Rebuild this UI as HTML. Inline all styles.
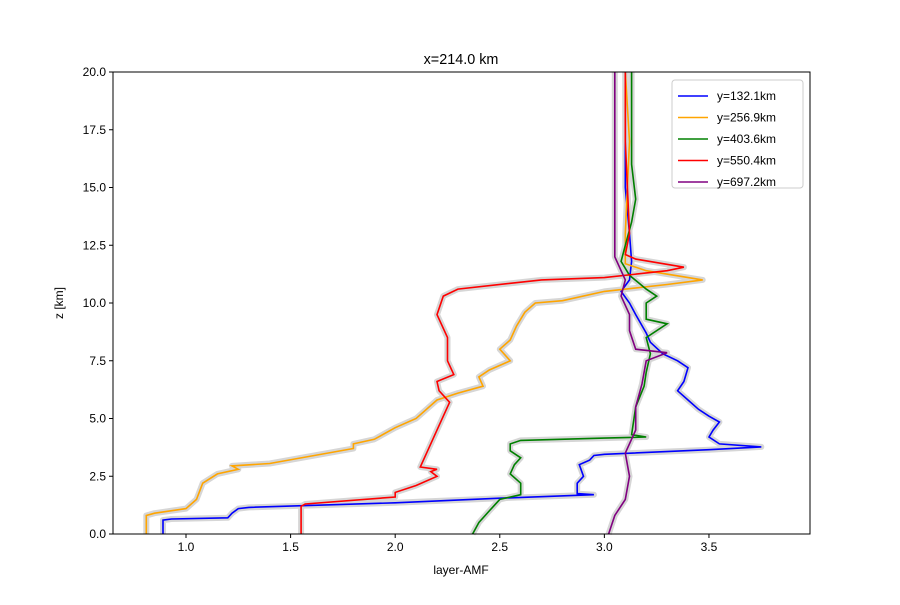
<!DOCTYPE html>
<html><head><meta charset="utf-8"><style>body{margin:0;background:#fff}svg{font-family:"Liberation Sans","DejaVu Sans",sans-serif}</style></head>
<body>
<svg id="c" width="900" height="600"></svg>
<script>
const seriesNames=["y=132.1km","y=256.9km","y=403.6km","y=550.4km","y=697.2km"];
const seriesColors=["blue","orange","green","red","purple"];
const blueX=[0.89,0.89,0.93,1.2,1.22,1.25,1.3,2.0,2.5,2.95,2.87,2.87,2.9,2.88,2.93,2.95,3.0,3.5,3.75,3.55,3.5,3.52,3.55,3.5,3.45,3.4,3.35,3.38,3.4,3.35,3.28,3.22,3.2,3.15,3.12,3.08,3.12,3.13,3.12,3.1,3.1,3.1];
const blueZ=[0,0.6,0.65,0.7,0.9,1.1,1.15,1.35,1.55,1.7,1.75,2.2,2.5,3.0,3.2,3.4,3.45,3.65,3.77,3.9,4.2,4.5,4.85,5.1,5.4,5.8,6.2,6.6,7.2,7.5,7.8,8.3,8.7,9.5,10.0,10.5,11.0,11.8,13,15,17,20];
const orangeX=[0.81,0.81,0.85,1.0,1.05,1.08,1.15,1.25,1.22,1.4,1.8,1.8,1.9,2.0,2.1,2.2,2.3,2.42,2.4,2.45,2.55,2.5,2.55,2.58,2.62,2.67,2.8,3.0,3.3,3.47,3.2,3.1,3.1,3.12,3.1];
const orangeZ=[0,0.8,0.9,1.1,1.5,2.2,2.6,2.8,2.95,3.05,3.7,3.9,4.1,4.6,5.0,5.8,6.1,6.4,6.8,7.1,7.5,8.0,8.4,9.0,9.6,10.0,10.1,10.5,10.8,11.0,11.4,11.7,13,17,20];
const greenX=[2.37,2.4,2.45,2.5,2.6,2.6,2.55,2.57,2.6,2.55,2.55,2.6,3.0,3.2,3.13,3.15,3.19,3.2,3.22,3.2,3.3,3.2,3.2,3.25,3.2,3.12,3.08,3.1,3.13,3.15,3.13,3.13];
const greenZ=[0,0.5,1.0,1.5,1.7,2.2,2.6,3.0,3.3,3.6,3.9,4.05,4.15,4.2,4.3,5.5,6.4,7.0,7.8,8.5,9.1,9.3,10.0,10.3,10.6,11.2,11.8,12.5,13.5,14.5,16,20];
const redX=[1.55,1.55,1.57,2.0,2.0,2.1,2.2,2.17,2.2,2.12,2.15,2.2,2.26,2.21,2.2,2.28,2.25,2.25,2.2,2.23,2.3,2.7,3.0,3.3,3.38,3.15,3.1,3.12,3.1,3.1];
const redZ=[0,1.2,1.3,1.6,1.8,2.1,2.5,2.7,2.8,2.9,3.5,4.5,5.7,6.2,6.6,6.9,7.5,8.5,9.5,10.3,10.6,11.0,11.1,11.4,11.55,11.9,12.1,13,17,20];
const purpleX=[3.02,3.05,3.1,3.12,3.1,3.15,3.15,3.18,3.2,3.3,3.15,3.12,3.12,3.08,3.1,3.05,3.05,3.05,3.05];
const purpleZ=[0,0.8,1.5,2.5,3.5,4.5,5.5,6.5,7.5,7.85,8.0,8.8,9.5,10.3,11.0,12,15,17,20];
const xTicks=[1.0,1.5,2.0,2.5,3.0,3.5];
const xTickLabels=["1.0","1.5","2.0","2.5","3.0","3.5"];
const yTicks=[0,2.5,5,7.5,10,12.5,15,17.5,20];
const yTickLabels=["0.0","2.5","5.0","7.5","10.0","12.5","15.0","17.5","20.0"];
const X0=113,X1=810,Y0=534,Y1=72,xmin=0.651,xmax=3.983,zmin=0,zmax=20;
const sx=v=>X0+(v-xmin)/(xmax-xmin)*(X1-X0);
const sy=v=>Y0-(v-zmin)/(zmax-zmin)*(Y0-Y1);
const svg=document.getElementById('c');const NS='http://www.w3.org/2000/svg';
function mk(t,a,p){const e=document.createElementNS(NS,t);for(const k in a)e.setAttribute(k,a[k]);(p||svg).appendChild(e);return e;}
const allX=[blueX,orangeX,greenX,redX,purpleX],allZ=[blueZ,orangeZ,greenZ,redZ,purpleZ];
const pts=i=>allX[i].map((v,j)=>sx(v).toFixed(1)+','+sy(allZ[i][j]).toFixed(1)).join(' ');
for(let i=0;i<5;i++){const b=mk('polyline',{points:pts(i),fill:'none',stroke:'#d6d6d6','stroke-width':6,'stroke-linejoin':'round'});

}
for(let i=0;i<5;i++){const l=mk('polyline',{points:pts(i),fill:'none',stroke:seriesColors[i],'stroke-width':1.6});

}
const fr=mk('rect',{x:X0,y:Y1,width:X1-X0,height:Y0-Y1,fill:'none',stroke:'#000','stroke-width':1});


xTicks.forEach((v,i)=>{mk('line',{x1:sx(v),x2:sx(v),y1:Y0,y2:Y0+4,stroke:'#000'});
const t=mk('text',{x:sx(v),y:Y0+17,'text-anchor':'middle','font-size':12});t.textContent=xTickLabels[i];

});
yTicks.forEach((v,i)=>{mk('line',{x1:X0-4,x2:X0,y1:sy(v),y2:sy(v),stroke:'#000'});
const t=mk('text',{x:X0-7,y:sy(v)+4,'text-anchor':'end','font-size':12});t.textContent=yTickLabels[i];

});
const lg=mk('g',{});


mk('rect',{x:672,y:80,width:131,height:108,rx:3,fill:'#fff',stroke:'#ccc'},lg);
seriesNames.forEach((n,i)=>{const y=96+i*21.5;mk('line',{x1:678,x2:708,y1:y,y2:y,stroke:seriesColors[i],'stroke-width':1.6},lg);
const t=mk('text',{x:717,y:y+4,'font-size':12},lg);t.textContent=n;

});
const tt=mk('text',{x:461,y:64,'text-anchor':'middle','font-size':14.4});tt.textContent='x=214.0 km';


const xl=mk('text',{x:461,y:574,'text-anchor':'middle','font-size':12});xl.textContent='layer-AMF';


const yl=mk('text',{x:63,y:303,'text-anchor':'middle','font-size':12,transform:'rotate(-90 63 303)'});yl.textContent='z [km]';


</script>
</body></html>
